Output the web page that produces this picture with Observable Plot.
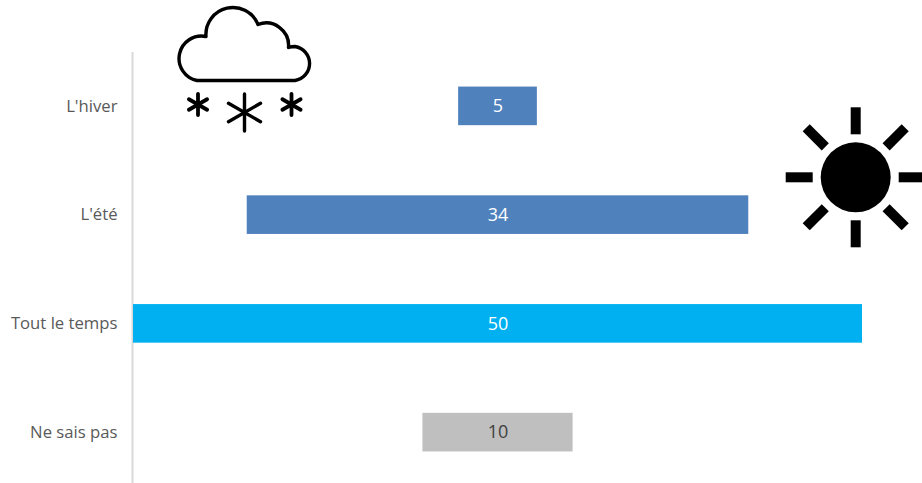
<!DOCTYPE html>
<html><head><meta charset="utf-8">
<script src="https://cdn.jsdelivr.net/npm/d3@7"></script>
<script src="https://cdn.jsdelivr.net/npm/@observablehq/plot@0.6"></script>
<style>html,body{margin:0;padding:0;background:#fff;overflow:hidden}svg{display:block}</style>
</head><body><div id="chart"></div>
<script>
const categories = ["L'hiver", "L'été", "Tout le temps", "Ne sais pas"];
const values = [5.4, 34.4, 50, 10.3];
const colors = ["#4f81bd", "#4f81bd", "#00b0f0", "#bfbfbf"];
const labelColors = ["#ffffff", "#ffffff", "#ffffff", "#404040"];
const rows = categories.map((c, i) => ({c, v: values[i], fill: colors[i], ink: labelColors[i]}));

const svgNode = (html) => () => {
  const g = document.createElementNS("http://www.w3.org/2000/svg", "g");
  g.innerHTML = html;
  return g;
};
const star = (cx, cy, r, w) => {
  const dx = r * Math.cos(Math.PI / 6), dy = r * Math.sin(Math.PI / 6);
  return `<path fill="none" stroke="#000" stroke-width="${w}" stroke-linecap="round" d="M${cx} ${cy - r}V${cy + r}M${cx - dx} ${cy - dy}L${cx + dx} ${cy + dy}M${cx - dx} ${cy + dy}L${cx + dx} ${cy - dy}"/>`;
};
const cloud = `<path fill="none" stroke="#000" stroke-width="3.4" stroke-linejoin="round" d="M197 80.5H295A17.2 17.2 0 0 0 295 46.5Q291.5 46.5 288.5 47.5A22.5 22.5 0 0 0 258 24.5A27 27 0 0 0 206 36.5A22.45 22.45 0 0 0 197 80.5Z"/>`
  + star(198, 104.5, 10.5, 3.8) + star(291.5, 104.5, 10.5, 3.8) + star(244.5, 112.5, 18.5, 3.4);
const sunCx = 855.7, sunCy = 177.3;
const rays = d3.range(8).map(i => `<rect x="-5" y="-70" width="10" height="27" transform="translate(${sunCx},${sunCy}) rotate(${i * 45})"/>`).join("");
const sun = `<g fill="#000"><circle cx="${sunCx}" cy="${sunCy}" r="35"/>${rays}</g>`;

const chart = Plot.plot({
  width: 922, height: 483,
  marginTop: 52, marginBottom: 0, marginLeft: 133, marginRight: 60,
  style: {background: "#fff"},
  x: {domain: [-25, 25], range: [133, 862], axis: null},
  y: {domain: categories, range: [51.5, 486.5], paddingInner: 0.645, paddingOuter: 0.3225, align: 0.5, round: false, label: null},
  marks: [
    Plot.ruleX([-25], {stroke: "#d9d9d9", strokeWidth: 2, dx: -1}),
    Plot.barX(rows, {x1: d => -d.v / 2, x2: d => d.v / 2, y: "c", fill: d => d.fill}),
    Plot.axisY({tickSize: 0, tickPadding: 16, fontSize: 16.7, fontFamily: "Open Sans", fill: "#595959", label: null}),
    Plot.text(rows, {x: () => 0, y: "c", text: d => d3.format("d")(Math.round(d.v)), fill: d => d.ink, fontSize: 18, fontFamily: "Open Sans"}),
    svgNode(cloud),
    svgNode(sun)
  ]
});
document.getElementById("chart").append(chart);
</script></body></html>
